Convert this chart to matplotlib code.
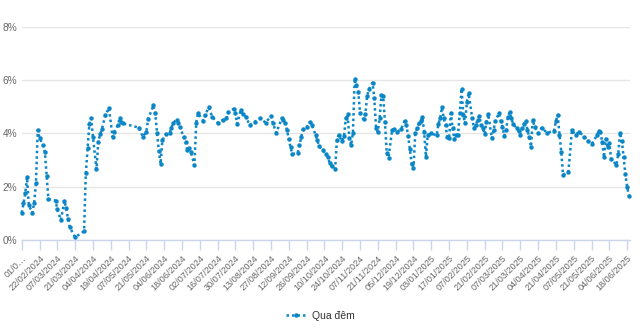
import matplotlib
matplotlib.use("Agg")
import matplotlib.pyplot as plt
from matplotlib.ticker import FuncFormatter

plt.rcParams['font.family'] = ['Liberation Sans', 'DejaVu Sans']

# Tick labels (every 10th business day)
tick_labels = ['01/0…', '22/02/2024', '07/03/2024', '21/03/2024', '04/04/2024', '19/04/2024',
               '07/05/2024', '21/05/2024', '04/06/2024', '18/06/2024', '02/07/2024', '16/07/2024',
               '30/07/2024', '13/08/2024', '27/08/2024', '12/09/2024', '26/09/2024', '10/10/2024',
               '24/10/2024', '07/11/2024', '21/11/2024', '05/12/2024', '19/12/2024', '03/01/2025',
               '17/01/2025', '07/02/2025', '21/02/2025', '07/03/2025', '21/03/2025', '04/04/2025',
               '21/04/2025', '07/05/2025', '21/05/2025', '04/06/2025', '18/06/2025']
tick_step = 10

# Series "Qua đêm": category index (business day) and rate in %
day_idx = [0, 1, 2, 3, 4, 6, 7, 8, 9, 10, 12, 13, 14, 15, 19, 20, 22, 24, 25, 26, 27, 30, 35, 36,
           37, 38, 39, 40, 42, 43, 44, 45, 47, 49, 51, 52, 54, 55, 56, 57, 66, 68, 70, 71, 74, 75,
           76, 77, 78, 79, 81, 83, 84, 85, 87, 88, 89, 91, 92, 93, 94, 95, 97, 98, 99, 102, 103,
           105, 107, 110, 113, 115, 116, 119, 120, 121, 123, 124, 126, 128, 131, 134, 137, 140,
           141, 143, 146, 147, 148, 149, 150, 151, 152, 155, 156, 157, 158, 160, 162, 163, 165,
           166, 167, 169, 171, 172, 173, 174, 176, 177, 178, 180, 181, 182, 183, 184, 185, 186,
           187, 188, 189, 190, 192, 193, 194, 195, 197, 198, 199, 200, 201, 202, 203, 204, 205,
           206, 208, 209, 211, 213, 215, 216, 217, 218, 219, 220, 221, 222, 223, 224, 225, 226,
           227, 228, 230, 233, 234, 235, 236, 237, 238, 239, 240, 241, 242, 243, 244, 245, 246,
           247, 248, 249, 250, 251, 253, 254, 255, 256, 257, 258, 259, 260, 261, 262, 264, 265,
           266, 268, 269, 270, 271, 272, 273, 274, 275, 276, 278, 279, 280, 281, 282, 283, 284,
           285, 286, 287, 288, 290, 292, 295, 299, 300, 301, 302, 303, 304, 307, 309, 311, 313,
           316, 318, 320, 323, 324, 325, 326, 327, 328, 329, 330, 331, 334, 335, 336, 337, 338,
           339, 340, 341]
rate = [1.02, 1.37, 1.75, 2.35, 1.31, 1.02, 1.40, 2.12, 4.12, 3.84, 3.55, 3.30, 2.40, 1.53, 1.48,
        1.15, 0.75, 1.47, 1.19, 0.79, 0.48, 0.10, 0.33, 2.50, 3.44, 4.36, 4.57, 3.87, 2.66, 3.67,
        3.96, 4.15, 4.69, 4.95, 3.87, 4.06, 4.31, 4.56, 4.44, 4.37, 4.21, 3.87, 4.06, 4.54, 5.05,
        4.75, 4.02, 3.35, 2.85, 3.75, 3.97, 4.00, 4.19, 4.40, 4.50, 4.40, 4.22, 3.85, 3.66, 3.37,
        3.44, 3.30, 2.81, 4.40, 4.75, 4.47, 4.69, 4.97, 4.62, 4.40, 4.50, 4.56, 4.79, 4.92, 4.75,
        4.36, 4.87, 4.72, 4.62, 4.30, 4.44, 4.56, 4.40, 4.65, 4.40, 4.02, 4.56, 4.50, 4.37, 4.12,
        3.77, 3.47, 3.22, 3.27, 3.55, 3.87, 4.15, 4.22, 4.42, 4.30, 3.95, 3.75, 3.52, 3.37, 3.21,
        3.10, 2.87, 2.77, 2.65, 3.75, 3.95, 3.70, 3.90, 4.56, 4.71, 3.81, 3.55, 4.02, 6.05, 5.81,
        5.56, 4.77, 4.52, 4.72, 5.41, 5.65, 5.90, 5.31, 4.19, 4.06, 4.56, 5.44, 5.41, 4.41, 3.25,
        3.09, 4.12, 4.15, 4.06, 4.15, 4.46, 4.30, 3.90, 3.40, 2.84, 2.69, 4.00, 4.19, 4.37, 4.47,
        4.60, 4.06, 3.12, 3.94, 4.00, 3.92, 4.35, 4.56, 4.97, 4.56, 4.31, 3.87, 3.81, 4.75, 4.19,
        3.77, 3.94, 3.94, 4.75, 5.67, 4.69, 4.37, 5.19, 5.50, 4.56, 4.19, 4.31, 4.50, 4.65, 4.31,
        4.19, 3.97, 4.44, 4.72, 3.81, 4.12, 4.47, 4.75, 4.47, 4.25, 3.90, 4.12, 4.60, 4.79, 4.56,
        4.35, 4.19, 4.10, 3.94, 4.19, 4.35, 4.47, 4.12, 3.87, 3.50, 4.50, 4.25, 4.00, 4.21, 4.02,
        4.10, 4.47, 4.69, 3.95, 3.31, 2.44, 2.55, 4.12, 3.94, 4.06, 3.87, 3.72, 3.59, 3.92, 4.09,
        4.06, 3.66, 3.10, 3.79, 3.47, 3.62, 3.05, 2.81, 3.22, 4.02, 3.72, 3.12, 2.46, 2.00, 1.65]
series_name = 'Qua đêm'
y_ticks = [0, 2, 4, 6, 8]

color = '#0b86c6'

fig = plt.figure(figsize=(6.4, 3.35), dpi=100)
ax = fig.add_axes([21.7 / 640, 1 - 240 / 335, (630 - 21.7) / 640, (240 - 26.7) / 335])

ax.plot(day_idx, rate, color=color, linewidth=1.8, linestyle=(0, (1, 1.2)),
        marker='o', markersize=3.2, markeredgewidth=0, clip_on=False,
        label=series_name, zorder=3)

ax.set_xlim(0, 341.6)
ax.set_ylim(0, 8)
ax.set_yticks(y_ticks)
ax.yaxis.set_major_formatter(FuncFormatter(lambda v, p: f'{int(v)}%'))
ax.grid(axis='y', color='#e6e6e6', linewidth=1)
ax.set_axisbelow(True)

ax.set_xticks(list(range(0, tick_step * len(tick_labels), tick_step)))
ax.set_xticklabels(tick_labels, rotation=45, ha='right', va='top', rotation_mode='anchor',
                   fontsize=6.6, color='#666666')
ax.tick_params(axis='x', length=7, width=1, color='#ccd6eb', pad=3)
ax.tick_params(axis='y', length=0, pad=3, labelsize=7.3, labelcolor='#666666')

for s in ['top', 'right', 'left']:
    ax.spines[s].set_visible(False)
ax.spines['bottom'].set_color('#ccd6eb')
ax.spines['bottom'].set_linewidth(1)

fig.legend(loc='center', bbox_to_anchor=(0.5, 1 - 316 / 335), frameon=False,
           fontsize=7.5, handlelength=2.0, handletextpad=0.5, labelcolor='#333333')

fig.savefig('out.png', dpi=100)
